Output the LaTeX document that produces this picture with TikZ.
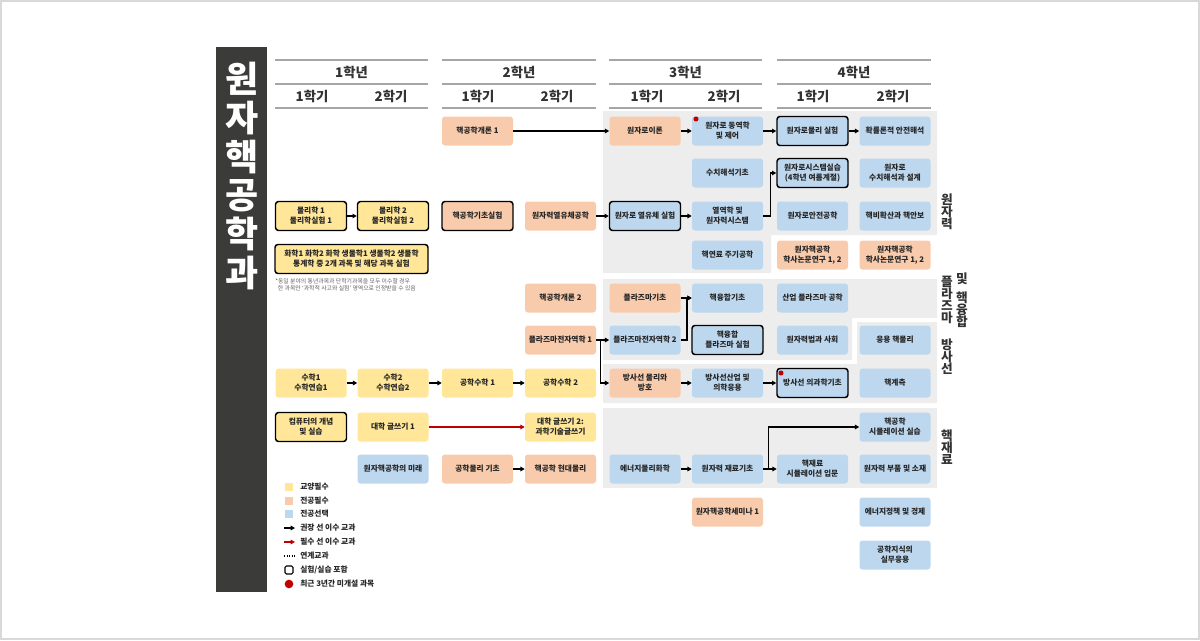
\documentclass[tikz,border=0pt]{standalone}
\usepackage{fontspec}
\setmainfont{Noto Sans CJK KR}
\usetikzlibrary{arrows.meta}
\definecolor{cyel}{HTML}{FFE699}
\definecolor{corg}{HTML}{F8CBAD}
\definecolor{cblu}{HTML}{BDD7EE}
\definecolor{cgry}{HTML}{EDEDED}
\definecolor{cdark}{HTML}{3B3B39}
\definecolor{ctxt}{HTML}{262626}
\definecolor{cred}{HTML}{C00000}
\definecolor{chead}{HTML}{333333}
\definecolor{cline}{HTML}{A6A6A6}
\begin{document}
\begin{tikzpicture}[x=0.75pt,y=-0.75pt,
  course/.style={rounded corners=2.2pt, minimum width=53.25pt, minimum height=21.75pt, inner sep=0pt, align=center, font=\fontsize{5.8}{7.4}\selectfont\bfseries, text=ctxt},
  cy/.style={course, fill=cyel},
  co/.style={course, fill=corg},
  cb/.style={course, fill=cblu},
  labbox/.style={draw=black, line width=1.1pt},
  arr/.style={line width=1.1pt, -{Triangle[length=3.2pt,width=3.4pt]}},
  redarr/.style={arr, draw=cred},
  headyr/.style={font=\fontsize{10}{12}\selectfont\bfseries, text=chead},
  headsem/.style={font=\fontsize{10}{12}\selectfont\bfseries, text=chead},
  hline/.style={draw=cline, line width=1.1pt},
  area/.style={fill=cgry},
  side/.style={font=\fontsize{9.5}{9}\selectfont\bfseries, text=chead, align=center, inner sep=0pt},
  legtxt/.style={anchor=west, font=\fontsize{5.8}{6.5}\selectfont\bfseries, text=ctxt, inner sep=0pt},
  legsq/.style={minimum size=6pt, inner sep=0pt},
  reddot/.style={circle, fill=cred, minimum size=3.8pt, inner sep=0pt}
]
\useasboundingbox (0,0) rectangle (1200,640);
\draw[gray!30, line width=0.8pt] (1,1) rectangle (1199,639);

% left title bar
\fill[cdark] (216,47) rectangle (267,592);
\node[font=\fontsize{27}{29}\selectfont\bfseries, text=white, align=center, inner sep=0pt] (title) at (242,176) {원\\자\\핵\\공\\학\\과};

% header lines
\foreach \a/\b in {275/428,442/596,609/762,777/931}{
  \draw[hline] (\a,60) -- (\b,60);
  \draw[hline] (\a,84) -- (\b,84);
  \draw[hline] (\a,108) -- (\b,108);
}
\node[headyr] (y1) at (351.5,72) {1학년};
\node[headyr] (y2) at (519,72) {2학년};
\node[headyr] (y3) at (685.5,72) {3학년};
\node[headyr] (y4) at (854,72) {4학년};
\node[headsem] (s11) at (312,96) {1학기};
\node[headsem] (s12) at (391,96) {2학기};
\node[headsem] (s21) at (478,96) {1학기};
\node[headsem] (s22) at (557,96) {2학기};
\node[headsem] (s31) at (647,96) {1학기};
\node[headsem] (s32) at (724,96) {2학기};
\node[headsem] (s41) at (813,96) {1학기};
\node[headsem] (s42) at (893,96) {2학기};

% grey areas
\path[area] (603,111) -- (937,111) -- (937,235) -- (771,235) -- (771,273) -- (603,273) -- cycle;
\path[area] (603,279) -- (937,279) -- (937,318) -- (852,318) -- (852,360) -- (603,360) -- cycle;
\path[area] (857,322) -- (937,322) -- (937,403) -- (603,403) -- (603,364) -- (857,364) -- cycle;
\path[area] (603,408) rectangle (937,488);

% side labels
\node[side] (sl1) at (947,212) {원\\자\\력};
\node[side] (sl2a) at (947,300) {플\\라\\즈\\마};
\node[side] (sl2b) at (962,279) {및};
\node[side] (sl2c) at (962,310) {핵\\융\\합};
\node[side] (sl3) at (947,357) {방\\사\\선};
\node[side] (sl4) at (947,447) {핵\\재\\료};

% column 1
\node[cy, labbox] (p1) at (311,216) {물리학 1\\물리학실험 1};
\node[cy, labbox, minimum width=114.75pt] (chem) at (351.5,259) {화학1 화학2 화학 생물학1 생물학2 생물학\\통계학 중 2개 과목 및 해당 과목 실험};
\node[anchor=north west, align=left, inner sep=0pt, font=\fontsize{4.4}{5.4}\selectfont, text=gray!75!black] (fn) at (275,278) {*동일 분야의 통년과목과 단학기과목을 모두 이수할 경우\\\hspace{2pt}한 과목만 ‘과학적 사고와 실험’ 영역으로 인정받을 수 있음};
\node[cy] (m1) at (311,383) {수학1\\수학연습1};
\node[cy, labbox] (comp) at (311,427) {컴퓨터의 개념\\및 실습};

% column 2
\node[cy, labbox] (p2) at (393,216) {물리학 2\\물리학실험 2};
\node[cy] (m2) at (393,383) {수학2\\수학연습2};
\node[cy] (w1) at (393,427) {대학 글쓰기 1};
\node[cb] (fut) at (393,469) {원자핵공학의 미래};

% column 3
\node[co] (ne1) at (477.5,131) {핵공학개론 1};
\node[co, labbox] (nlab) at (477.5,216) {핵공학기초실험};
\node[cy] (em1) at (477.5,383) {공학수학 1};
\node[co] (ephys) at (477.5,469) {공학물리 기초};

% column 4
\node[co] (thf) at (560.5,216) {원자력열유체공학};
\node[co] (ne2) at (560.5,298) {핵공학개론 2};
\node[co] (pe1) at (560.5,340) {플라즈마전자역학 1};
\node[cy] (em2) at (560.5,383) {공학수학 2};
\node[cy] (w2) at (560.5,427) {대학 글쓰기 2:\\과학기술글쓰기};
\node[co] (modp) at (560.5,469) {핵공학 현대물리};

% column 5
\node[co] (rth) at (645,131) {원자로이론};
\node[cb, labbox] (rtf) at (645,216) {원자로 열유체 실험};
\node[co] (pb) at (645,298) {플라즈마기초};
\node[cb] (pe2) at (645,340) {플라즈마전자역학 2};
\node[co] (rad) at (645,383) {방사선 물리와\\방호};
\node[cb] (epc) at (645,469) {에너지물리화학};

% column 6
\node[cb] (rdyn) at (727.5,131) {원자로 동역학\\및 제어};
\node[cb] (num) at (727.5,173) {수치해석기초};
\node[cb] (thermo) at (727.5,216) {열역학 및\\원자력시스템};
\node[cb] (fuel) at (727.5,255) {핵연료 주기공학};
\node[cb] (fb) at (727.5,298) {핵융합기초};
\node[cb, labbox] (fpl) at (727.5,340) {핵융합\\플라즈마 실험};
\node[cb] (radi) at (727.5,383) {방사선산업 및\\의학응용};
\node[cb] (mat) at (727.5,469) {원자력 재료기초};
\node[co] (sem) at (727.5,512) {원자핵공학세미나 1};

% column 7
\node[cb, labbox] (rpl) at (812.5,131) {원자로물리 실험};
\node[cb, labbox] (rsys) at (812.5,173) {원자로시스템실습\\(4학년 여름계절)};
\node[cb] (rsaf) at (812.5,216) {원자로안전공학};
\node[co] (the1) at (812.5,255) {원자핵공학\\학사논문연구 1, 2};
\node[cb] (ipl) at (812.5,298) {산업 플라즈마 공학};
\node[cb] (law) at (812.5,340) {원자력법과 사회};
\node[cb, labbox] (rmed) at (812.5,383) {방사선 의과학기초};
\node[cb] (nsim) at (812.5,469) {핵재료\\시뮬레이션 입문};

% column 8
\node[cb] (prob) at (895,131) {확률론적 안전해석};
\node[cb] (rdes) at (895,173) {원자로\\수치해석과 설계};
\node[cb] (nonp) at (895,216) {핵비확산과 핵안보};
\node[co] (the2) at (895,255) {원자핵공학\\학사논문연구 1, 2};
\node[cb] (anp) at (895,340) {응용 핵물리};
\node[cb] (meas) at (895,383) {핵계측};
\node[cb] (simp) at (895,427) {핵공학\\시뮬레이션 실습};
\node[cb] (comp2) at (895,469) {원자력 부품 및 소재};
\node[cb] (epol) at (895,512) {에너지정책 및 경제};
\node[cb] (prac) at (895,555) {공학지식의\\실무응용};

% red dots
\node[reddot] (d1) at (696,119) {};
\node[reddot] (d2) at (781,373) {};

% connectors
\draw[arr] (p1) -- (p2);
\draw[arr] (m1) -- (m2);
\draw[arr] (m2) -- (em1);
\draw[arr] (em1) -- (em2);
\draw[redarr] (w1) -- (w2);
\draw[arr] (ephys) -- (modp);
\draw[arr] (ne1) -- (rth);
\draw[arr] (rth) -- (rdyn);
\draw[arr] (rdyn) -- (rpl);
\draw[arr] (rpl) -- (prob);
\draw[arr] (thf) -- (rtf);
\draw[arr] (rtf) -- (thermo);
\draw[arr] (thermo.east) -- ++(7,0) |- (rsys.west);
\draw[arr] (pe1) -- (pe2);
\draw[arr] (pe1.east) -- ++(4,0) |- (rad.west);
\draw[arr] (pb) -- (fb);
\draw[arr] (pe2.east) -- ++(6,0) |- (fb.west);
\draw[arr] (rad) -- (radi);
\draw[arr] (radi) -- (rmed);
\draw[arr] (epc) -- (mat);
\draw[arr] (mat) -- (nsim);
\draw[arr] (mat.east) -- ++(5,0) |- (simp.west);

% legend
\node[legsq, fill=cyel] (lq1) at (289,487) {};
\node[legtxt] (lt1) at (300,487) {교양필수};
\node[legsq, fill=corg] (lq2) at (289,501) {};
\node[legtxt] (lt2) at (300,501) {전공필수};
\node[legsq, fill=cblu] (lq3) at (289,514) {};
\node[legtxt] (lt3) at (300,514) {전공선택};
\coordinate (la4) at (284,528);
\coordinate (lb4) at (295,528);
\draw[arr] (la4) -- (lb4);
\node[legtxt] (lt4) at (300,528) {권장 선 이수 교과};
\coordinate (la5) at (284,542);
\coordinate (lb5) at (295,542);
\draw[redarr] (la5) -- (lb5);
\node[legtxt] (lt5) at (300,542) {필수 선 이수 교과};
\coordinate (la6) at (284,556);
\coordinate (lb6) at (295,556);
\draw[densely dotted, line width=0.9pt] (la6) -- (lb6);
\node[legtxt] (lt6) at (300,556) {연계교과};
\node[legsq, draw=black, line width=0.8pt, rounded corners=1pt] (lq7) at (289,570) {};
\node[legtxt] (lt7) at (300,570) {실험/실습 포함};
\node[circle, fill=cred, minimum size=6.5pt, inner sep=0pt] (lq8) at (289,584) {};
\node[legtxt] (lt8) at (300,584) {최근 3년간 미개설 과목};
\end{tikzpicture}
\end{document}
